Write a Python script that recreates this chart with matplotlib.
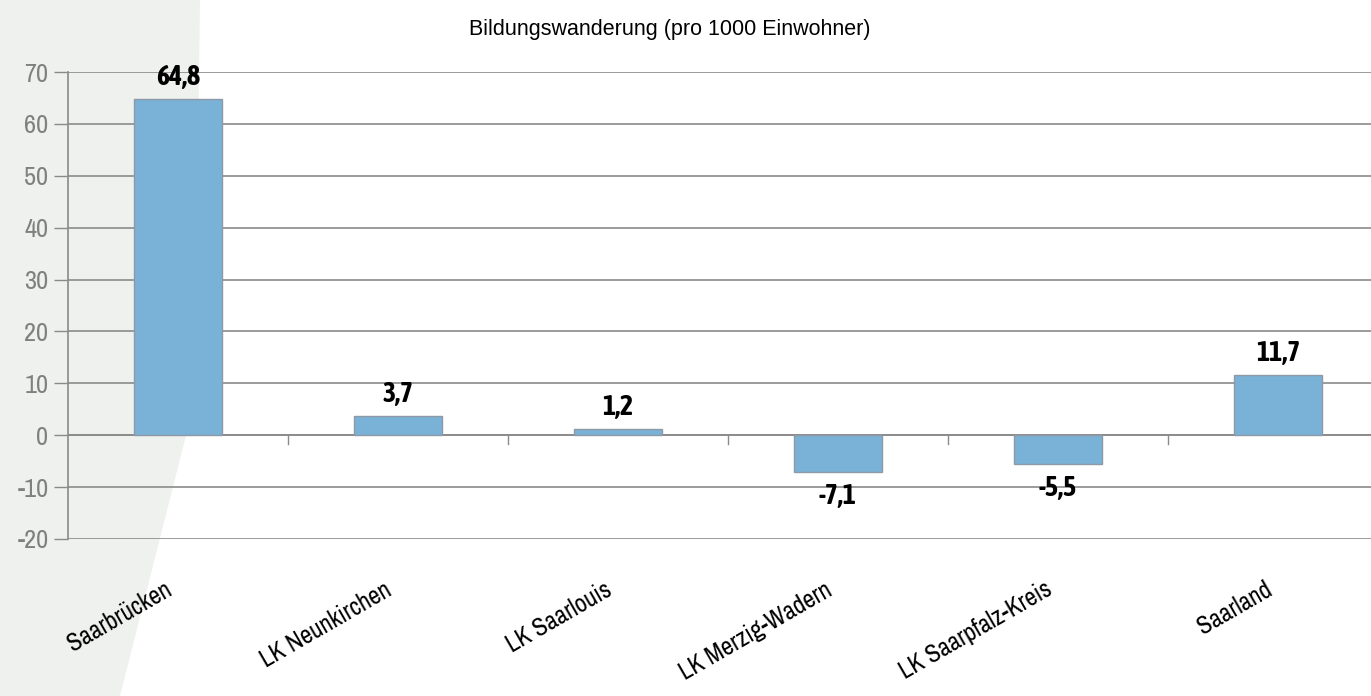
import matplotlib
matplotlib.use("Agg")
import matplotlib.pyplot as plt
from matplotlib.patches import Polygon

# data
regions = ["Saarbrücken", "LK Neunkirchen", "LK Saarlouis",
           "LK Merzig-Wadern", "LK Saarpfalz-Kreis", "Saarland"]
values = [64.8, 3.7, 1.2, -7.1, -5.5, 11.7]
yticks = [-20, -10, 0, 10, 20, 30, 40, 50, 60, 70]
title = "Bildungswanderung (pro 1000 Einwohner)"

narrow = ["Liberation Sans Narrow", "Archivo Narrow", "Liberation Sans", "DejaVu Sans"]
narrow_bold = ["Liberation Sans Narrow", "Asap Condensed", "Liberation Sans", "DejaVu Sans"]
plt.rcParams["font.family"] = narrow

fig = plt.figure(figsize=(13.71, 6.96), dpi=100)
fig.patch.set_facecolor("white")

# light grey band on the left of the slide
bg = Polygon([(0, 1), (200 / 1371, 1), (195 / 1371, 1 - 400 / 696),
              (120 / 1371, 0), (0, 0)], closed=True, transform=fig.transFigure,
             facecolor="#eff1ee", edgecolor="none", zorder=-10)
fig.patches.append(bg)

ax = fig.add_axes([68 / 1371, 157 / 696, 1320 / 1371, 467 / 696])
ax.set_facecolor("none")

x = range(len(regions))
ax.bar(x, values, width=0.4, color="#7ab1d6", edgecolor="#8d9aa6", linewidth=1, zorder=3)

for xi, v in zip(x, values):
    txt = f"{v:.1f}".replace(".", ",")
    if v >= 0:
        ax.annotate(txt, (xi, v), xytext=(0, 10), textcoords="offset points",
                    ha="center", va="baseline", fontsize=20, fontweight="bold",
                    family=narrow_bold, color="black")
    else:
        ax.annotate(txt, (xi, v), xytext=(0, -8), textcoords="offset points",
                    ha="center", va="top", fontsize=20, fontweight="bold",
                    family=narrow_bold, color="black")

ax.set_xlim(-0.5, len(regions) - 0.5)
ax.set_ylim(-20, 70)
ax.set_yticks(yticks)
ax.set_yticklabels([str(t) for t in yticks], fontsize=19, color="#808080")
ax.grid(axis="y", color="#8a8a8a", linewidth=1.2, zorder=0)
ax.tick_params(axis="y", length=10, width=1, color="#8a8a8a", pad=4)

for s in ["top", "right", "bottom"]:
    ax.spines[s].set_visible(False)
ax.spines["left"].set_color("#8a8a8a")
ax.spines["left"].set_linewidth(1.2)

# zero line with category boundary ticks
ax.axhline(0, color="#8a8a8a", linewidth=1.2, zorder=2)
ax.set_xticks([])
for b in range(1, len(regions)):
    ax.plot([b - 0.5, b - 0.5], [0, -1.7], color="#8a8a8a", linewidth=1, zorder=2,
            clip_on=False)

for xi, name in zip(x, regions):
    ax.annotate(name, (xi, -20), xytext=(-6, -35), textcoords="offset points",
                ha="right", va="center", rotation=30, rotation_mode="anchor",
                fontsize=18, color="black", annotation_clip=False)

fig.text(670 / 1371, 1 - 30 / 696, title, ha="center", va="center",
         fontsize=15.5, family=["Liberation Sans", "DejaVu Sans"], color="black")

fig.savefig("out.png", dpi=100)
